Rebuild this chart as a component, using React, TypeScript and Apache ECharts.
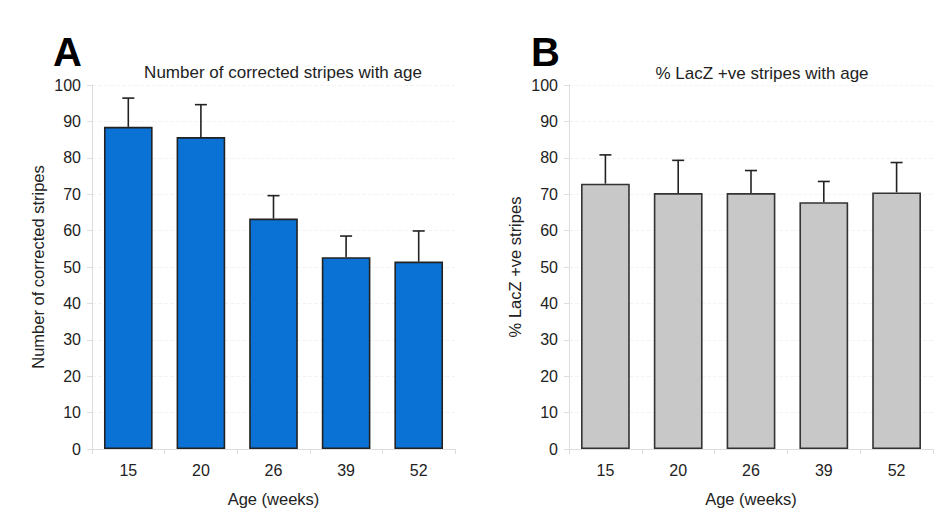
import React, { useEffect, useRef } from "react";
import * as echarts from "echarts";

const ages = ["15", "20", "26", "39", "52"];
const correctedMeans = [88.5, 85.7, 63.3, 52.7, 51.5];
const correctedErrTop = [96.4, 94.6, 69.6, 58.5, 59.9];
const lacZMeans = [72.9, 70.3, 70.3, 67.8, 70.5];
const lacZErrTop = [80.8, 79.3, 76.5, 73.5, 78.7];
const yTicks = { min: 0, max: 100, interval: 10 };

const FONT = "Liberation Sans, Arial, sans-serif";

function errorSeries(xi: number, means: number[], tops: number[]) {
  return {
    type: "custom",
    xAxisIndex: xi,
    yAxisIndex: xi,
    z: 5,
    data: means.map((m, i) => [i, m, tops[i]]),
    renderItem: (params: any, api: any) => {
      const lo = api.coord([api.value(0), api.value(1)]);
      const hi = api.coord([api.value(0), api.value(2)]);
      const half = 6;
      const st = { stroke: "#222", lineWidth: 1.6 };
      return {
        type: "group",
        children: [
          { type: "line", shape: { x1: lo[0], y1: lo[1], x2: hi[0], y2: hi[1] }, style: st },
          { type: "line", shape: { x1: hi[0] - half, y1: hi[1], x2: hi[0] + half, y2: hi[1] }, style: st },
        ],
      };
    },
  };
}

function xAxis(gi: number) {
  return {
    type: "category",
    gridIndex: gi,
    data: ages,
    name: "Age (weeks)",
    nameLocation: "middle",
    nameGap: 41,
    nameTextStyle: { fontFamily: FONT, fontSize: 16.5, color: "#222" },
    axisLine: { lineStyle: { color: "#dddddd", width: 1 } },
    axisTick: { show: true, alignWithLabel: false, length: 5, lineStyle: { color: "#dddddd" } },
    axisLabel: { fontFamily: FONT, fontSize: 16, color: "#222", margin: 13 },
  };
}

function yAxis(gi: number, name: string, gap: number) {
  return {
    type: "value",
    gridIndex: gi,
    ...yTicks,
    name,
    nameLocation: "middle",
    nameGap: gap,
    nameTextStyle: { fontFamily: FONT, fontSize: 16.5, color: "#222" },
    axisLine: { show: true, lineStyle: { color: "#dddddd", width: 1 } },
    axisTick: { show: true, length: 5, lineStyle: { color: "#dddddd" } },
    axisLabel: { fontFamily: FONT, fontSize: 16, color: "#222", margin: 11 },
    splitLine: { show: true, lineStyle: { color: "#f3f3f3", type: "dashed", width: 1 } },
  };
}

export default function App() {
  const ref = useRef<HTMLDivElement>(null);
  useEffect(() => {
    if (!ref.current) return;
    const chart = echarts.init(ref.current, null, { renderer: "svg" });
    chart.setOption({
      animation: false,
      backgroundColor: "#ffffff",
      grid: [
        { left: 92, top: 85, width: 363, height: 364 },
        { left: 569, top: 85, width: 364, height: 364 },
      ],
      xAxis: [xAxis(0), xAxis(1)],
      yAxis: [yAxis(0, "Number of corrected stripes", 46), yAxis(1, "% LacZ +ve stripes", 46)],
      graphic: [
        { type: "text", left: 53, top: 32, style: { text: "A", font: "bold 40px " + FONT, fill: "#000" } },
        { type: "text", left: 531, top: 32, style: { text: "B", font: "bold 40px " + FONT, fill: "#000" } },
        { type: "text", x: 283, y: 72, style: { text: "Number of corrected stripes with age", font: "17px " + FONT, fill: "#222", align: "center", verticalAlign: "middle" } },
        { type: "text", x: 762, y: 73, style: { text: "% LacZ +ve stripes with age", font: "17px " + FONT, fill: "#222", align: "center", verticalAlign: "middle" } },
      ],
      series: [
        {
          type: "bar",
          xAxisIndex: 0,
          yAxisIndex: 0,
          data: correctedMeans,
          barWidth: "67%",
          itemStyle: { color: "#0a72d4", borderColor: "#222", borderWidth: 1.6 },
        },
        errorSeries(0, correctedMeans, correctedErrTop),
        {
          type: "bar",
          xAxisIndex: 1,
          yAxisIndex: 1,
          data: lacZMeans,
          barWidth: "67%",
          itemStyle: { color: "#c8c8c8", borderColor: "#333", borderWidth: 1.6 },
        },
        errorSeries(1, lacZMeans, lacZErrTop),
      ],
    });
    return () => chart.dispose();
  }, []);
  return <div ref={ref} style={{ width: 943, height: 518, position: "absolute", left: 0, top: 0 }} />;
}
